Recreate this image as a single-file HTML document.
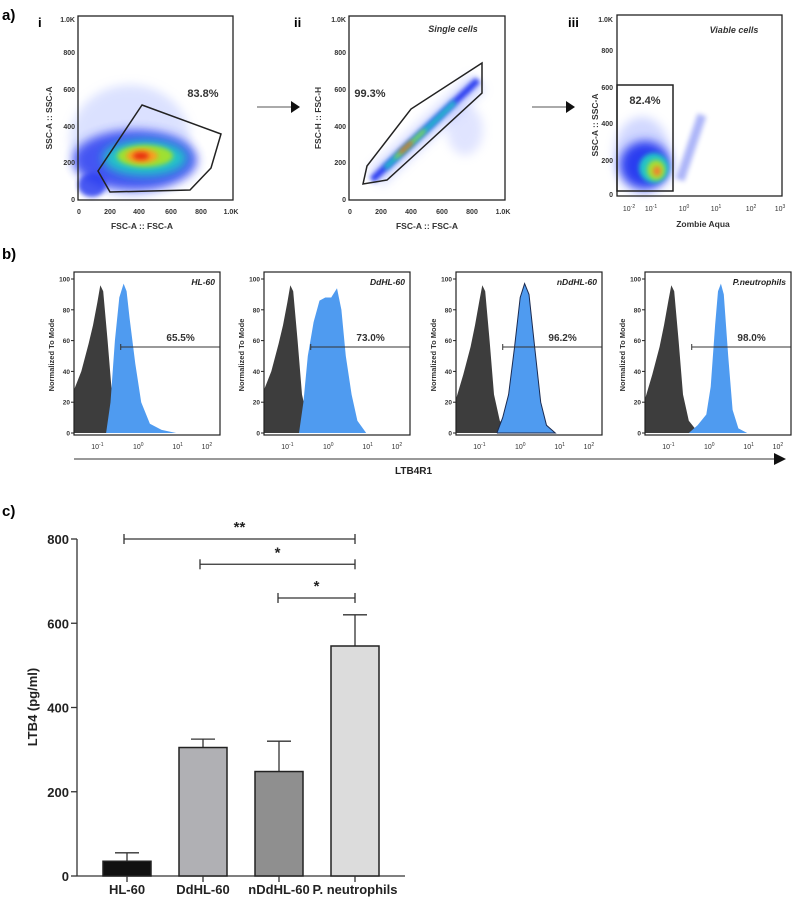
<!DOCTYPE html>
<html><head><meta charset="utf-8"><style>
html,body{margin:0;padding:0;background:#fff;width:793px;height:909px;overflow:hidden}
svg{display:block;font-family:"Liberation Sans",Arial,sans-serif}
</style></head><body>
<svg id="fig" width="793" height="909" viewBox="0 0 793 909">
<defs>
<filter id="bl" x="-50%" y="-50%" width="200%" height="200%"><feGaussianBlur stdDeviation="5"/></filter>
<filter id="bl2" x="-50%" y="-50%" width="200%" height="200%"><feGaussianBlur stdDeviation="2.5"/></filter>
</defs>

<!-- PANEL A -->
<g>
<text x="2" y="20" font-size="15" font-weight="bold">a)</text>
<text x="38" y="27" font-size="13" font-weight="bold">i</text>
<text x="294" y="27" font-size="13" font-weight="bold">ii</text>
<text x="568" y="27" font-size="13" font-weight="bold">iii</text>

<!-- plot i density -->
<g>
<ellipse cx="130" cy="140" rx="60" ry="55" fill="#b8c4ff" opacity="0.5" filter="url(#bl)"/>
<ellipse cx="135" cy="160" rx="62" ry="30" fill="#2a3cf0" opacity="0.85" filter="url(#bl)"/>
<ellipse cx="92" cy="185" rx="14" ry="12" fill="#2a3cf0" opacity="0.85" filter="url(#bl2)"/>
<ellipse cx="145" cy="158" rx="42" ry="18" fill="#22c4c8" filter="url(#bl)"/>
<ellipse cx="145" cy="156" rx="28" ry="11" fill="#9fe030" filter="url(#bl2)"/>
<ellipse cx="142" cy="156" rx="16" ry="7" fill="#f8a020" filter="url(#bl2)"/>
<ellipse cx="141" cy="156" rx="8" ry="4" fill="#e83010" filter="url(#bl2)"/>
</g>
<rect x="78" y="16" width="155" height="184" fill="none" stroke="#222" stroke-width="1.3"/>
<polygon points="142,105 221,134 211,168 190,190 110,192 98,171" fill="none" stroke="#222" stroke-width="1.5"/>
<text x="203" y="97" font-size="11" font-weight="bold" fill="#333" text-anchor="middle">83.8%</text>
<g font-size="7" font-weight="bold" fill="#333" text-anchor="end">
<text x="75" y="22">1.0K</text><text x="75" y="55">800</text><text x="75" y="92">600</text><text x="75" y="129">400</text><text x="75" y="165">200</text><text x="75" y="202">0</text>
</g>
<g font-size="7" font-weight="bold" fill="#333" text-anchor="middle">
<text x="79" y="214">0</text><text x="110" y="214">200</text><text x="139" y="214">400</text><text x="171" y="214">600</text><text x="201" y="214">800</text><text x="231" y="214">1.0K</text>
</g>
<text x="142" y="229" font-size="8.5" font-weight="bold" fill="#333" text-anchor="middle">FSC-A :: FSC-A</text>
<text transform="translate(52,118) rotate(-90)" font-size="8.5" font-weight="bold" fill="#333" text-anchor="middle">SSC-A :: SSC-A</text>

<g><line x1="257" y1="107" x2="291" y2="107" stroke="#555" stroke-width="1"/><polygon points="291,101 300,107 291,113" fill="#111"/></g>

<!-- plot ii -->
<g>
<line x1="375" y1="178" x2="478" y2="82" stroke="#90a0ff" stroke-width="22" opacity="0.35" filter="url(#bl)"/>
<line x1="372" y1="180" x2="478" y2="80" stroke="#2a3cf0" stroke-width="7" filter="url(#bl2)"/>
<line x1="385" y1="168" x2="455" y2="102" stroke="#22c4c8" stroke-width="5" filter="url(#bl2)"/>
<line x1="395" y1="158" x2="425" y2="130" stroke="#9fe030" stroke-width="3" filter="url(#bl2)"/>
<line x1="400" y1="153" x2="412" y2="142" stroke="#e85020" stroke-width="3" filter="url(#bl2)"/>
<ellipse cx="465" cy="130" rx="18" ry="25" fill="#a8b4ff" opacity="0.35" filter="url(#bl)"/>
</g>
<rect x="349" y="16" width="156" height="184" fill="none" stroke="#222" stroke-width="1.3"/>
<polygon points="367,166 411,109 482,63 482,93 420,150 387,180 363,184" fill="none" stroke="#222" stroke-width="1.5"/>
<text x="370" y="97" font-size="11" font-weight="bold" fill="#333" text-anchor="middle">99.3%</text>
<text x="453" y="32" font-size="9" font-weight="bold" font-style="italic" fill="#333" text-anchor="middle">Single cells</text>
<g font-size="7" font-weight="bold" fill="#333" text-anchor="end">
<text x="346" y="22">1.0K</text><text x="346" y="55">800</text><text x="346" y="92">600</text><text x="346" y="129">400</text><text x="346" y="165">200</text><text x="346" y="202">0</text>
</g>
<g font-size="7" font-weight="bold" fill="#333" text-anchor="middle">
<text x="350" y="214">0</text><text x="381" y="214">200</text><text x="411" y="214">400</text><text x="442" y="214">600</text><text x="472" y="214">800</text><text x="503" y="214">1.0K</text>
</g>
<text x="427" y="229" font-size="8.5" font-weight="bold" fill="#333" text-anchor="middle">FSC-A :: FSC-A</text>
<text transform="translate(321,118) rotate(-90)" font-size="8.5" font-weight="bold" fill="#333" text-anchor="middle">FSC-H :: FSC-H</text>

<g><line x1="532" y1="107" x2="566" y2="107" stroke="#555" stroke-width="1"/><polygon points="566,101 575,107 566,113" fill="#111"/></g>

<!-- plot iii -->
<g>
<ellipse cx="642" cy="155" rx="28" ry="38" fill="#9aa8ff" opacity="0.45" filter="url(#bl)"/>
<ellipse cx="645" cy="165" rx="25" ry="24" fill="#2a3cf0" filter="url(#bl)"/>
<ellipse cx="654" cy="168" rx="15" ry="15" fill="#22c4c8" filter="url(#bl2)"/>
<ellipse cx="656" cy="170" rx="9" ry="10" fill="#a8e030" filter="url(#bl2)"/>
<ellipse cx="657" cy="171" rx="4" ry="5" fill="#f08030" filter="url(#bl2)"/>
<line x1="680" y1="180" x2="702" y2="115" stroke="#4a5cf0" stroke-width="9" opacity="0.45" filter="url(#bl2)"/>
</g>
<rect x="617" y="15" width="165" height="181" fill="none" stroke="#222" stroke-width="1.3"/>
<rect x="617" y="85" width="56" height="106" fill="none" stroke="#222" stroke-width="1.5"/>
<text x="645" y="104" font-size="11" font-weight="bold" fill="#333" text-anchor="middle">82.4%</text>
<text x="734" y="33" font-size="9" font-weight="bold" font-style="italic" fill="#333" text-anchor="middle">Viable cells</text>
<g font-size="7" font-weight="bold" fill="#333" text-anchor="end">
<text x="613" y="22">1.0K</text><text x="613" y="53">800</text><text x="613" y="90">600</text><text x="613" y="126">400</text><text x="613" y="163">200</text><text x="613" y="197">0</text>
</g>
<g font-size="7" fill="#333" text-anchor="middle">
<text x="629" y="211">10<tspan font-size="5" dy="-3">-2</tspan></text>
<text x="651" y="211">10<tspan font-size="5" dy="-3">-1</tspan></text>
<text x="684" y="211">10<tspan font-size="5" dy="-3">0</tspan></text>
<text x="716" y="211">10<tspan font-size="5" dy="-3">1</tspan></text>
<text x="751" y="211">10<tspan font-size="5" dy="-3">2</tspan></text>
<text x="780" y="211">10<tspan font-size="5" dy="-3">3</tspan></text>
</g>
<text x="703" y="227" font-size="8.5" font-weight="bold" fill="#333" text-anchor="middle">Zombie Aqua</text>
<text transform="translate(598,125) rotate(-90)" font-size="8.5" font-weight="bold" fill="#333" text-anchor="middle">SSC-A :: SSC-A</text>
</g>

<!-- PANEL B -->
<g id="panelB">
<text x="2" y="259" font-size="15" font-weight="bold">b)</text>
<line x1="74" y1="459" x2="776" y2="459" stroke="#333" stroke-width="1"/>
<polygon points="774,453 786,459 774,465" fill="#111"/>
<text x="395" y="474" font-size="10" font-weight="bold" fill="#222">LTB4R1</text>
</g>

<!-- PANEL C -->
<g id="panelC">
<text x="2" y="516" font-size="15" font-weight="bold">c)</text>
</g>
</svg>

<script>
// ---------- Panel B data ----------
const histNames = ["HL-60", "DdHL-60", "nDdHL-60", "P.neutrophils"];
const histPct = ["65.5%", "73.0%", "96.2%", "98.0%"];
const grayX = [0, 0.05, 0.1, 0.13, 0.16, 0.18, 0.2, 0.23, 0.26, 0.3, 0.35, 0.4];
const grayY0 = [28, 40, 58, 70, 85, 96, 92, 60, 25, 8, 2, 0];
const grayY1 = [22, 38, 56, 70, 86, 96, 92, 60, 25, 8, 2, 0];
const blueX0 = [0.22, 0.25, 0.28, 0.31, 0.34, 0.36, 0.38, 0.42, 0.46, 0.52, 0.6, 0.7];
const blueY0 = [0, 20, 60, 88, 97, 92, 75, 45, 20, 6, 2, 0];
const blueX1 = [0.24, 0.27, 0.3, 0.34, 0.38, 0.42, 0.46, 0.5, 0.53, 0.56, 0.6, 0.64, 0.7];
const blueY1 = [0, 20, 50, 72, 86, 88, 88, 94, 80, 50, 25, 8, 0];
const blueX2 = [0.28, 0.32, 0.36, 0.4, 0.44, 0.47, 0.5, 0.54, 0.58, 0.62, 0.68];
const blueY2 = [0, 10, 25, 55, 88, 97, 90, 55, 20, 5, 0];
const blueX3 = [0.3, 0.36, 0.42, 0.45, 0.48, 0.5, 0.52, 0.54, 0.57, 0.6, 0.64, 0.7];
const blueY3 = [0, 5, 12, 30, 70, 92, 97, 90, 50, 15, 3, 0];
const histYTicks = [0, 20, 40, 60, 80, 100];

const NS = "http://www.w3.org/2000/svg";
function mk(tag, attrs, parent) {
  const e = document.createElementNS(NS, tag);
  for (const k in attrs) e.setAttribute(k, attrs[k]);
  parent.appendChild(e);
  return e;
}
const pB = document.getElementById("panelB");
const boxL = [74, 264, 456, 645], boxW = 146, boxT = 272, boxB = 435;
const hy = v => 433 - v * (433 - 279) / 100;
const grays = [grayY0, grayY0, grayY1, grayY1];
const blues = [[blueX0, blueY0], [blueX1, blueY1], [blueX2, blueY2], [blueX3, blueY3]];
const decX = [[0.16, 0.44, 0.71, 0.91], [0.16, 0.44, 0.71, 0.91], [0.16, 0.44, 0.71, 0.91], [0.16, 0.44, 0.71, 0.91]];
const decLab = ["-1", "0", "1", "2"];

function areaPath(xs, ys, L) {
  let d = "M" + (L + xs[0] * boxW) + "," + hy(0);
  xs.forEach((x, i) => { d += " L" + (L + x * boxW).toFixed(1) + "," + hy(ys[i]).toFixed(1); });
  d += " L" + (L + xs[xs.length - 1] * boxW) + "," + hy(0) + " Z";
  return d;
}
histNames.forEach((nm, i) => {
  const L = boxL[i];
  const g = mk("g", {}, pB);
  
  
  const cp = mk("clipPath", { id: "cp" + i }, g);
  mk("rect", { x: L, y: boxT, width: Math.min(boxW, 793 - L), height: boxB - boxT }, cp);
  const gc = mk("g", { "clip-path": "url(#cp" + i + ")" }, g);
  const gp = mk("path", { d: areaPath(grayX, grays[i], L), fill: "#3d3d3d" }, gc);
  
  
  const bp = mk("path", { d: areaPath(blues[i][0], blues[i][1], L), fill: "#4f9bf0", stroke: i === 2 ? "#1a2a50" : "none", "stroke-width": 1 }, gc);
  
  
  const fr = mk("rect", { x: L, y: boxT, width: boxW, height: boxB - boxT, fill: "none", stroke: "#222", "stroke-width": 1.2 }, g);
  
  
  histYTicks.forEach(t => {
    mk("line", { x1: L - 3, x2: L, y1: hy(t), y2: hy(t), stroke: "#222" }, g);
    const tx = mk("text", { x: L - 4, y: hy(t) + 2.5, "font-size": 6.5, "font-weight": "bold", fill: "#333", "text-anchor": "end" }, g);
    tx.textContent = t;
    
    
  });
  decX[i].forEach((fx, k) => {
    const tx = mk("text", { x: L + fx * boxW, y: 449, "font-size": 7, fill: "#333", "text-anchor": "middle" }, g);
    tx.innerHTML = '10<tspan font-size="5" dy="-3">' + decLab[k] + '</tspan>';
    
    
  });
  const yt = mk("text", { transform: "translate(" + (L - 20) + ",355) rotate(-90)", "font-size": 7.5, "font-weight": "bold", fill: "#333", "text-anchor": "middle" }, g);
  yt.textContent = "Normalized To Mode";
  
  
  const ti = mk("text", { x: L + boxW - 5, y: 285, "font-size": 8.5, "font-weight": "bold", "font-style": "italic", fill: "#222", "text-anchor": "end" }, g);
  ti.textContent = nm;
  
  
  const mx = L + 0.32 * boxW;
  const ml = mk("line", { x1: mx, x2: Math.min(L + boxW, 793), y1: 347, y2: 347, stroke: "#333", "stroke-width": 1 }, g);
  
  
  mk("line", { x1: mx, x2: mx, y1: 344, y2: 350, stroke: "#333" }, g);
  const pt = mk("text", { x: L + 0.73 * boxW, y: 341, "font-size": 10, "font-weight": "bold", fill: "#333", "text-anchor": "middle" }, g);
  pt.textContent = histPct[i];
  
  
});

// ---------- Panel C data ----------
const categories = ["HL-60", "DdHL-60", "nDdHL-60", "P. neutrophils"];
const means = [35, 305, 248, 546];
const errors = [20, 20, 72, 74];
const barColors = ["#111111", "#b0b0b4", "#8f8f8f", "#dcdcdc"];
const yTicks = [0, 200, 400, 600, 800];
const sigFrom = [0, 1, 2];
const sigTo = [3, 3, 3];
const sigLevel = [800, 740, 660];
const sigLabel = ["**", "*", "*"];

const pC = document.getElementById("panelC");
const y0 = 876, y800 = 539;
const yS = v => y0 - v * (y0 - y800) / 800;
const axX = 77, step = 76, first = 127, bw = 48;
const xC = i => first + i * step;

const ax = mk("line", { x1: axX, x2: axX, y1: y800, y2: y0, stroke: "#333", "stroke-width": 1.3 }, pC);


const xa = mk("line", { x1: axX, x2: 405, y1: y0, y2: y0, stroke: "#333", "stroke-width": 1.3 }, pC);


yTicks.forEach(t => {
  mk("line", { x1: axX - 6, x2: axX, y1: yS(t), y2: yS(t), stroke: "#333", "stroke-width": 1.3 }, pC);
  const tx = mk("text", { x: axX - 8, y: yS(t) + 5, "font-size": 13, "font-weight": "bold", fill: "#222", "text-anchor": "end" }, pC);
  tx.textContent = t;
  
  
});
const yt = mk("text", { transform: "translate(37,707) rotate(-90)", "font-size": 13, "font-weight": "bold", fill: "#222", "text-anchor": "middle" }, pC);
yt.textContent = "LTB4 (pg/ml)";



categories.forEach((c, i) => {
  const cx = xC(i);
  const top = yS(means[i] + errors[i]);
  const el = mk("line", { x1: cx, x2: cx, y1: top, y2: yS(means[i]), stroke: "#333", "stroke-width": 1.3 }, pC);
  
  
  mk("line", { x1: cx - 12, x2: cx + 12, y1: top, y2: top, stroke: "#333", "stroke-width": 1.3 }, pC);
  const b = mk("rect", { x: cx - bw / 2, y: yS(means[i]), width: bw, height: y0 - yS(means[i]), fill: barColors[i], stroke: "#222", "stroke-width": 1.5 }, pC);
  
  
  mk("line", { x1: cx, x2: cx, y1: y0, y2: y0 + 6, stroke: "#333", "stroke-width": 1.3 }, pC);
  const tl = mk("text", { x: cx, y: 894, "font-size": 13, "font-weight": "bold", fill: "#222", "text-anchor": "middle" }, pC);
  tl.textContent = c;
  
  
});

const sigX0 = [124, 199, 278];
sigFrom.forEach((f, k) => {
  const x1 = k === 0 ? xC(f) - 3 : (k === 1 ? xC(f) - 3 : xC(f) - 1);
  const x2 = xC(sigTo[k]);
  const y = yS(sigLevel[k]);
  const g = mk("g", {}, pC);
  
  
  mk("line", { x1: x1, x2: x2, y1: y, y2: y, stroke: "#333", "stroke-width": 1.3 }, g);
  mk("line", { x1: x1, x2: x1, y1: y - 5, y2: y + 5, stroke: "#333", "stroke-width": 1.3 }, g);
  mk("line", { x1: x2, x2: x2, y1: y - 5, y2: y + 5, stroke: "#333", "stroke-width": 1.3 }, g);
  const st = mk("text", { x: (x1 + x2) / 2, y: y - 7, "font-size": 15, "font-weight": "bold", fill: "#222", "text-anchor": "middle" }, g);
  st.textContent = sigLabel[k];
  
  
});
</script>
</body></html>
